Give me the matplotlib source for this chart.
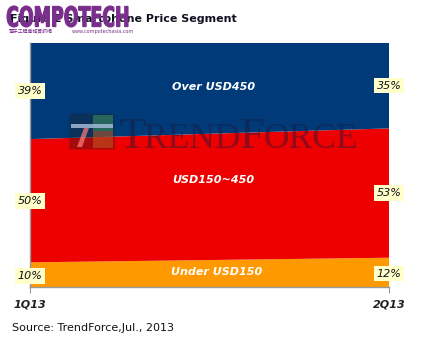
import matplotlib.pyplot as plt
import numpy as np
from matplotlib.patches import FancyBboxPatch, Rectangle, PathPatch, Polygon
from matplotlib.textpath import TextPath
from matplotlib.font_manager import FontProperties
from matplotlib.transforms import Affine2D

quarters = ['1Q13', '2Q13']
under150 = [10, 12]
mid150_450 = [50, 53]
over450 = [39, 35]
seg_names = ['Under USD150', 'USD150~450', 'Over USD450']
seg_colors = ['#FF9900', '#EC0000', '#003A78']

W, H = 426, 352
vals = np.array([under150, mid150_450, over450], dtype=float)
norm = vals / vals.sum(axis=0) * 100
x = np.arange(len(quarters))

fig = plt.figure(figsize=(W / 100, H / 100), dpi=100)
ax = fig.add_axes([30/W, 65/H, 359/W, 244/H])
ax.stackplot(x, norm, colors=seg_colors, linewidth=0)
ax.set_xlim(0, 1)
ax.set_ylim(0, 100)

for s in ['top', 'right']:
    ax.spines[s].set_visible(False)
for s in ['left', 'bottom']:
    ax.spines[s].set_color('#999999')
    ax.spines[s].set_linewidth(1)
ax.set_yticks([])
ax.set_xticks(x)
ax.set_xticklabels(quarters, fontsize=8, fontweight='bold', style='italic', color='#222222')
ax.tick_params(axis='x', length=4, color='#999999', pad=5)

# value labels on both edges
cum = np.cumsum(norm, axis=0)
box = dict(boxstyle='square,pad=0.25', fc='#FFFFCC', ec='none')
for i in range(3):
    for j in range(2):
        yc = cum[i, j] - norm[i, j] / 2
        if i == 0:
            yc = norm[i, j] / 2 - 0.5
        ax.text(x[j], yc, '%d%%' % vals[i, j], ha='center', va='center', fontsize=8,
                style='italic', color='#111111', bbox=box, clip_on=False, zorder=5)

# segment names in the middle
mid_y = [cum[0].mean() / 2 + 0.5, (cum[0].mean() + cum[1].mean()) / 2 + 7, cum[1].mean() + 19]
mid_x = [0.52, 0.51, 0.51]
for i in range(3):
    ax.text(mid_x[i], mid_y[i], seg_names[i], ha='center', va='center', fontsize=8,
            fontweight='bold', style='italic', color='white', zorder=5)


def px(xp, yp):
    # pixel coords from top-left -> figure fraction
    return xp / W, (H - yp) / H


# TrendForce watermark logo
fig.patches.append(FancyBboxPatch(px(71, 148), 42/W, 33/H,
                                  boxstyle='round,pad=0.004', transform=fig.transFigure,
                                  fc='#222222', ec='none', alpha=0.35, zorder=3))
fig.patches.append(Rectangle(px(93, 131), 20/W, 16/H, transform=fig.transFigure,
                             fc='#3A8A5A', ec='none', alpha=0.6, zorder=3))
fig.patches.append(Rectangle(px(93, 148), 20/W, 17/H, transform=fig.transFigure,
                             fc='#D06020', ec='none', alpha=0.5, zorder=3))
fig.patches.append(Rectangle(px(71, 128), 42/W, 4/H, transform=fig.transFigure,
                             fc='#A8C0E0', ec='none', alpha=0.8, zorder=3))
fig.patches.append(Polygon([px(84, 128), px(89, 128), px(82, 147), px(77, 147)], closed=True,
                           transform=fig.transFigure, fc='#FF8080', ec='none', alpha=0.7, zorder=3))

# TrendForce watermark text (small caps)
fig.canvas.draw()
rend = fig.canvas.get_renderer()
xpos = 118
for part, fs in [('T', 32), ('REND', 25.5), ('F', 32), ('ORCE', 25.5)]:
    t = fig.text(*px(xpos, 148), part, fontsize=fs, family='Liberation Serif', color='#1A1A3A',
                 alpha=0.45, va='baseline', zorder=4)
    xpos += t.get_window_extent(rend).width - 1

# title
fig.text(*px(10, 19), 'Figure 2 Smartphone Price Segment', fontsize=8.0, fontweight='bold',
         color='#111122', va='center')

# COMPOTECH logo, stretched to its box
tp = TextPath((0, 0), 'COMPOTECH', size=1, prop=FontProperties(family='DejaVu Sans', weight='bold'))
ext = tp.get_extents()
x0, x1, y0, y1 = 7, 128, 6, 27
sx = (x1 - x0) / W / ext.width
sy = (y1 - y0) / H / ext.height
trans = Affine2D().translate(-ext.x0, -ext.y0).scale(sx, sy).translate(*px(x0, y1)) + fig.transFigure
fig.patches.append(PathPatch(tp, transform=trans, fc='#7A2E8C', ec='#7A2E8C', lw=0.8, zorder=6))
fig.text(*px(9, 31), '電子工程專輯資訊網', fontsize=3.5, color='#7A2E8C',
         family=['Noto Sans CJK TC', 'DejaVu Sans'], va='center')
fig.text(*px(72, 31), 'www.compotechasia.com', fontsize=3.5, color='#7A2E8C', va='center')

fig.text(*px(12, 328), 'Source: TrendForce,Jul., 2013', fontsize=8, color='#111111', va='center')

fig.savefig('out.png', dpi=100)
